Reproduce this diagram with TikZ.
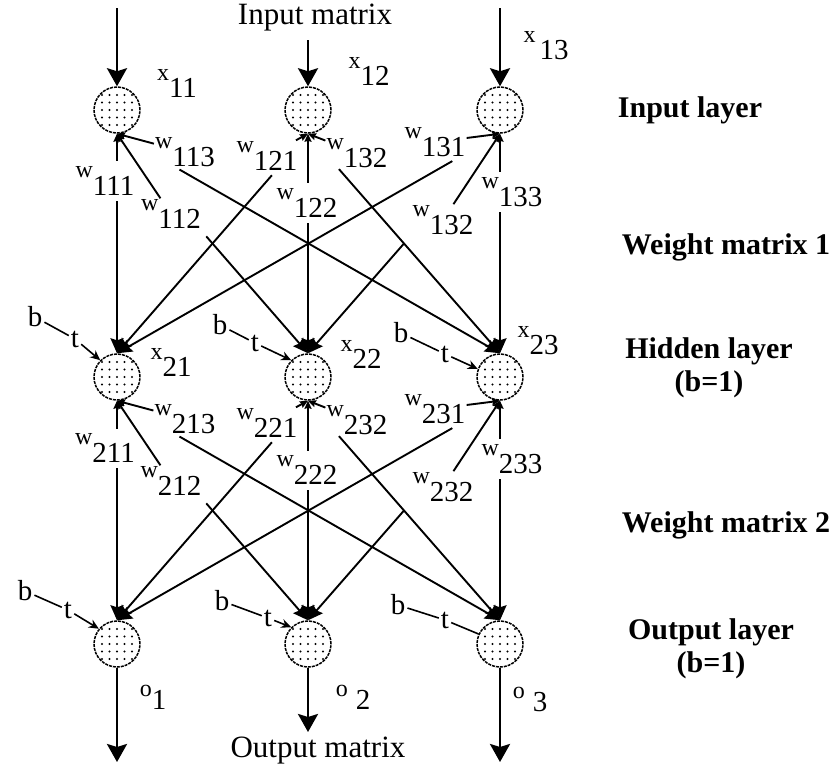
\documentclass[tikz,border=0pt]{standalone}
\usepackage{fontspec}
\setmainfont{Liberation Serif}
\usetikzlibrary{arrows.meta,positioning}

\newcommand{\sublab}[3][18pt]{{\fontsize{24}{24}\selectfont\raisebox{#1}{#2}}{\fontsize{29}{30}\selectfont #3}}

\begin{document}
\begin{tikzpicture}[x=1pt,y=-1pt,
  neuron/.style={circle,draw,minimum size=46pt,inner sep=0pt,line width=1.5pt,
    dash pattern=on 3pt off 1pt,
    path picture={\foreach \dx in {-2,...,2}
      \foreach \dy in {-2,...,2}
        \fill (path picture bounding box.center) ++(\dx*7.5pt,\dy*7.5pt) circle (1.1pt);}},
  wlab/.style={inner sep=1pt},
  wlabv/.style={fill=white,inner xsep=1pt,inner ysep=5pt},
  ioarrow/.style={line width=2.8pt,-{Stealth[length=18pt,width=20pt,inset=3pt]}},
  fwd/.style={line width=1.9pt,-{Stealth[length=15pt,width=13pt,inset=2pt]}},
  bck/.style={line width=1.9pt,-{Stealth[length=8pt,width=7pt,inset=1pt]}},
  bothtip/.style={line width=1.9pt,{Stealth[length=8pt,width=7pt,inset=1pt]}-{Stealth[length=15pt,width=13pt,inset=2pt]}},
  biaslab/.style={font=\fontsize{29}{30}\selectfont,inner sep=2pt},
  btline/.style={line width=1.6pt},
  sidelab/.style={font=\fontsize{30}{33}\selectfont\bfseries,align=center},
  titlelab/.style={font=\fontsize{31}{34}\selectfont}
]
\useasboundingbox (0,0) rectangle (834,769);

%NODES
\node[neuron] (in1) at (117,110) {};
\node[neuron] (in2) at (308,110) {};
\node[neuron] (in3) at (500,110) {};
\node[neuron] (hd1) at (117,377) {};
\node[neuron] (hd2) at (308,377) {};
\node[neuron] (hd3) at (500,377) {};
\node[neuron] (ot1) at (117,644) {};
\node[neuron] (ot2) at (308,644) {};
\node[neuron] (ot3) at (500,644) {};

%INPUT AND OUTPUT
\node[titlelab] (inmat) at (315,18) {Input matrix};
\node[titlelab] (outmat) at (318,751) {Output matrix};
\coordinate (s1) at (117,8);
\coordinate (s2) at (308,40);
\coordinate (s3) at (500,8);
\coordinate (e1) at (117,762);
\coordinate (e2) at (308,732);
\coordinate (e3) at (500,762);
\draw[ioarrow] (s1) -- (in1);
\draw[ioarrow] (s2) -- (in2);
\draw[ioarrow] (s3) -- (in3);
\draw[ioarrow] (ot1) -- (e1);
\draw[ioarrow] (ot2) -- (e2);
\draw[ioarrow] (ot3) -- (e3);
\node (x11) at (177,83) {\sublab[17pt]{x}{11}};
\node (x12) at (369,71) {\sublab[17pt]{x}{12}};
\node (x13) at (546,46) {\sublab[17pt]{x}{\hspace{4pt}13}};
\node (x21) at (171,362) {\sublab[17pt]{x}{21}};
\node (x22) at (361,354) {\sublab[17pt]{x}{22}};
\node (x23) at (538,341) {\sublab[17pt]{x}{23}};
\node (o1) at (153,697) {\sublab[13pt]{o}{1}};
\node (o2) at (353,697) {\sublab[13pt]{o}{\hspace{8pt}2}};
\node (o3) at (530,699) {\sublab[13pt]{o}{\hspace{8pt}3}};

%WEIGHT MATRIX 1
\draw[bothtip] (in1) -- (hd1);
\draw[bothtip] (in2) -- (hd2);
\draw[bothtip] (in3) -- (hd3);
\node[wlabv] (w111) at (105,181) {\sublab{w}{111}};
\node[wlab] (w112) at (171,214) {\sublab{w}{112}};
\node[wlab] (w113) at (185,152) {\sublab{w}{113}};
\node[wlab] (w121) at (267,156) {\sublab{w}{121}};
\node[wlabv] (w122) at (307,203) {\sublab{w}{122}};
\node[wlab] (w123) at (357,153) {\sublab{w}{132}};
\node[wlab] (w131) at (435,142) {\sublab{w}{131}};
\node[wlab] (w132) at (443,220) {\sublab{w}{132}};
\node[wlabv] (w133) at (512,192) {\sublab{w}{133}};
\draw[fwd,shorten <=136pt] (in1.south) -- (hd2.north);
\draw[fwd,shorten <=72pt] (in1.south) -- (hd3.north);
\draw[fwd,shorten <=55pt] (in2.south) -- (hd1.north);
\draw[fwd,shorten <=47pt] (in2.south) -- (hd3.north);
\draw[fwd,shorten <=55pt] (in3.south) -- (hd1.north);
\draw[fwd,shorten <=146pt] (in3.south) -- (hd2.north);
\draw[bck] (w112) -- (in1.south);
\draw[bck] (w113) -- (in1.south);
\draw[bck] (w121) -- (in2.south);
\draw[bck] (w123) -- (in2.south);
\draw[bck] (w131) -- (in3.south);
\draw[bck] (w132) -- (in3.south);

%WEIGHT MATRIX 2
\draw[bothtip] (hd1) -- (ot1);
\draw[bothtip] (hd2) -- (ot2);
\draw[bothtip] (hd3) -- (ot3);
\node[wlabv] (w211) at (105,448) {\sublab{w}{211}};
\node[wlab] (w212) at (171,481) {\sublab{w}{212}};
\node[wlab] (w213) at (185,419) {\sublab{w}{213}};
\node[wlab] (w221) at (267,423) {\sublab{w}{221}};
\node[wlabv] (w222) at (307,470) {\sublab{w}{222}};
\node[wlab] (w223) at (357,420) {\sublab{w}{232}};
\node[wlab] (w231) at (435,409) {\sublab{w}{231}};
\node[wlab] (w232) at (443,487) {\sublab{w}{232}};
\node[wlabv] (w233) at (512,459) {\sublab{w}{233}};
\draw[fwd,shorten <=136pt] (hd1.south) -- (ot2.north);
\draw[fwd,shorten <=72pt] (hd1.south) -- (ot3.north);
\draw[fwd,shorten <=55pt] (hd2.south) -- (ot1.north);
\draw[fwd,shorten <=47pt] (hd2.south) -- (ot3.north);
\draw[fwd,shorten <=55pt] (hd3.south) -- (ot1.north);
\draw[fwd,shorten <=146pt] (hd3.south) -- (ot2.north);
\draw[bck] (w212) -- (hd1.south);
\draw[bck] (w213) -- (hd1.south);
\draw[bck] (w221) -- (hd2.south);
\draw[bck] (w223) -- (hd2.south);
\draw[bck] (w231) -- (hd3.south);
\draw[bck] (w232) -- (hd3.south);

%BIAS
\node[biaslab] (bh1) at (35,317) {b};
\node[biaslab] (th1) at (75,339) {t};
\node[biaslab] (bh2) at (220,325) {b};
\node[biaslab] (th2) at (255,343) {t};
\node[biaslab] (bh3) at (401,333) {b};
\node[biaslab] (th3) at (445,354) {t};
\node[biaslab] (bo1) at (25,591) {b};
\node[biaslab] (to1) at (68,610) {t};
\node[biaslab] (bo2) at (222,601) {b};
\node[biaslab] (to2) at (268,618) {t};
\node[biaslab] (bo3) at (398,605) {b};
\node[biaslab] (to3) at (445,620) {t};
\draw[btline] (bh1) -- (th1);
\draw[btline] (bh2) -- (th2);
\draw[btline] (bh3) -- (th3);
\draw[btline] (bo1) -- (to1);
\draw[btline] (bo2) -- (to2);
\draw[btline] (bo3) -- (to3);
\draw[btline,-{Stealth[length=10pt,width=9pt]}] (th1) -- (hd1.135);
\draw[btline,-{Stealth[length=10pt,width=9pt]}] (th2) -- (hd2.135);
\draw[btline,-{Stealth[length=10pt,width=9pt]}] (th3) -- (hd3.160);
\draw[btline,-{Stealth[length=10pt,width=9pt]}] (to1) -- (ot1.140);
\draw[btline,-{Stealth[length=10pt,width=9pt]}] (to2) -- (ot2.135);
\draw[btline] (to3) -- (ot3.155);

%LAYER NAMES
\node[sidelab] (lin) at (690,110) {Input layer};
\node[sidelab] (lw1) at (726,247) {Weight matrix 1};
\node[sidelab] (lhd) at (709,368) {Hidden layer\\(b=1)};
\node[sidelab] (lw2) at (726,525) {Weight matrix 2};
\node[sidelab] (lot) at (711,649) {Output layer\\(b=1)};
\end{tikzpicture}
\end{document}
